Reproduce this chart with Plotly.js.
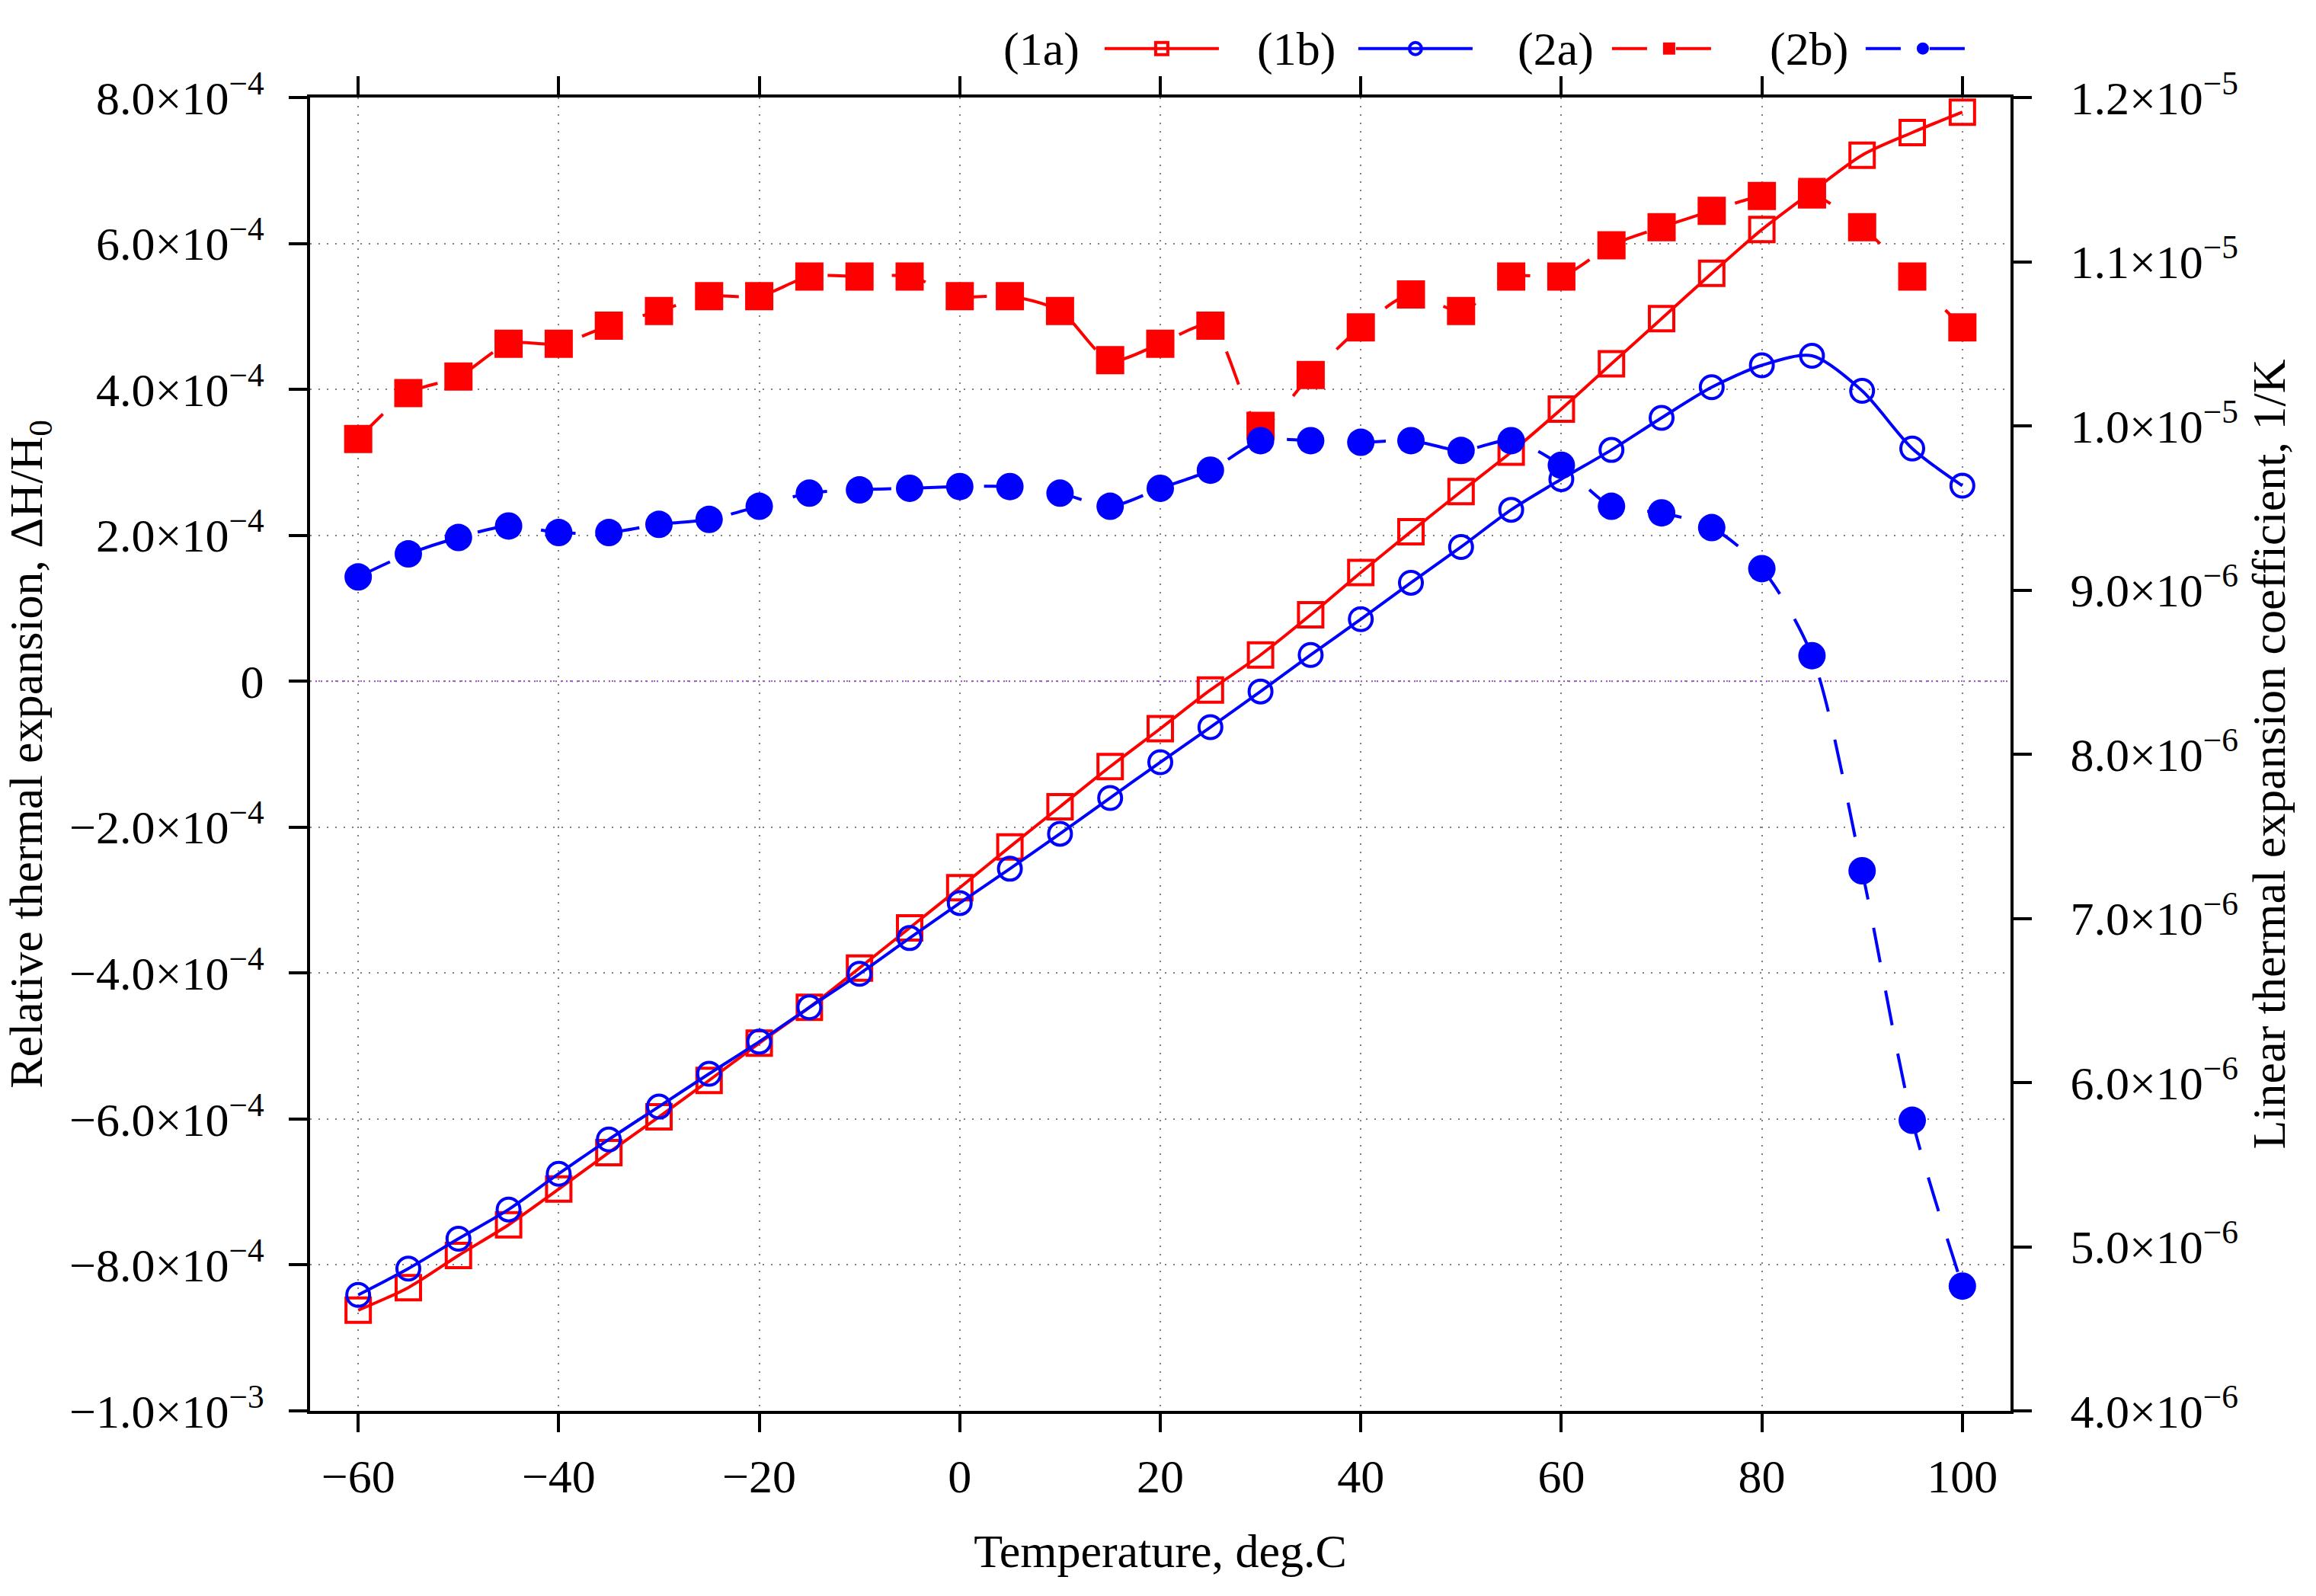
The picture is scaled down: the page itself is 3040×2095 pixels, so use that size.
<!DOCTYPE html>
<html>
<head>
<meta charset="utf-8">
<script src="https://cdn.plot.ly/plotly-3.0.1.min.js"></script>
<style>
  html, body { margin: 0; padding: 0; background: #fff; }
  #grafico { width: 3040px; height: 2095px; }
</style>
</head>
<body>
<div id="grafico"></div>
<script>
// temperatura (deg.C)
const temperatura = [-60, -55, -50, -45, -40, -35, -30, -25, -20, -15, -10, -5, 0, 5, 10, 15, 20,
                     25, 30, 35, 40, 45, 50, 55, 60, 65, 70, 75, 80, 85, 90, 95, 100];

// (1a), (1b): relative thermal expansion dH/H0 (left axis)
const expansao1a = [-8.62e-4, -8.31e-4, -7.87e-4, -7.45e-4, -6.96e-4, -6.46e-4, -5.97e-4, -5.47e-4,
                    -4.96e-4, -4.47e-4, -3.93e-4, -3.38e-4, -2.83e-4, -2.27e-4, -1.72e-4, -1.17e-4,
                    -0.65e-4, -0.12e-4, 0.36e-4, 0.91e-4, 1.49e-4, 2.05e-4, 2.60e-4, 3.14e-4,
                    3.73e-4, 4.35e-4, 4.97e-4, 5.59e-4, 6.19e-4, 6.71e-4, 7.21e-4, 7.52e-4, 7.80e-4];
const expansao1b = [-8.41e-4, -8.05e-4, -7.64e-4, -7.24e-4, -6.75e-4, -6.28e-4, -5.83e-4, -5.38e-4,
                    -4.94e-4, -4.47e-4, -4.01e-4, -3.52e-4, -3.04e-4, -2.57e-4, -2.09e-4, -1.60e-4,
                    -1.11e-4, -0.63e-4, -0.14e-4, 0.36e-4, 0.85e-4, 1.35e-4, 1.84e-4, 2.35e-4,
                    2.77e-4, 3.17e-4, 3.61e-4, 4.03e-4, 4.33e-4, 4.46e-4, 3.98e-4, 3.19e-4, 2.68e-4];

// (2a), (2b): linear thermal expansion coefficient, 1/K (right axis)
const coef2a = [9.92e-6, 10.20e-6, 10.30e-6, 10.50e-6, 10.50e-6, 10.61e-6, 10.70e-6, 10.79e-6,
                10.79e-6, 10.91e-6, 10.91e-6, 10.91e-6, 10.79e-6, 10.79e-6, 10.70e-6, 10.40e-6,
                10.50e-6, 10.61e-6, 10.00e-6, 10.31e-6, 10.60e-6, 10.80e-6, 10.70e-6, 10.91e-6,
                10.91e-6, 11.10e-6, 11.21e-6, 11.31e-6, 11.40e-6, 11.41e-6, 11.21e-6, 10.91e-6, 10.60e-6];
const coef2b = [9.08e-6, 9.22e-6, 9.32e-6, 9.39e-6, 9.35e-6, 9.35e-6, 9.40e-6, 9.43e-6,
                9.51e-6, 9.59e-6, 9.61e-6, 9.62e-6, 9.63e-6, 9.63e-6, 9.59e-6, 9.51e-6,
                9.62e-6, 9.73e-6, 9.91e-6, 9.91e-6, 9.90e-6, 9.91e-6, 9.85e-6, 9.91e-6,
                9.76e-6, 9.51e-6, 9.47e-6, 9.38e-6, 9.13e-6, 8.60e-6, 7.29e-6, 5.77e-6, 4.76e-6];

const nomes = ['(1a)', '(1b)', '(2a)', '(2b)'];

const ticksX = [-60, -40, -20, 0, 20, 40, 60, 80, 100];
const ticksXTexto = ['\u221260', '\u221240', '\u221220', '0', '20', '40', '60', '80', '100'];

const ticksEsq = [8e-4, 6e-4, 4e-4, 2e-4, 0, -2e-4, -4e-4, -6e-4, -8e-4, -1e-3];
const ticksEsqTexto = ['8.0\u00d710<sup>\u22124</sup>', '6.0\u00d710<sup>\u22124</sup>', '4.0\u00d710<sup>\u22124</sup>',
                       '2.0\u00d710<sup>\u22124</sup>', '0', '\u22122.0\u00d710<sup>\u22124</sup>',
                       '\u22124.0\u00d710<sup>\u22124</sup>', '\u22126.0\u00d710<sup>\u22124</sup>',
                       '\u22128.0\u00d710<sup>\u22124</sup>', '\u22121.0\u00d710<sup>\u22123</sup>'];

const ticksDir = [1.2e-5, 1.1e-5, 1.0e-5, 9e-6, 8e-6, 7e-6, 6e-6, 5e-6, 4e-6];
const ticksDirTexto = ['1.2\u00d710<sup>\u22125</sup>', '1.1\u00d710<sup>\u22125</sup>', '1.0\u00d710<sup>\u22125</sup>',
                       '9.0\u00d710<sup>\u22126</sup>', '8.0\u00d710<sup>\u22126</sup>', '7.0\u00d710<sup>\u22126</sup>',
                       '6.0\u00d710<sup>\u22126</sup>', '5.0\u00d710<sup>\u22126</sup>', '4.0\u00d710<sup>\u22126</sup>'];

const VERMELHO = '#ff0000';
const AZUL = '#0000ff';
const FONTE = 'Liberation Serif, Times New Roman, serif';
const tracejado = '46px,38px';

const traces = [
    { x: temperatura, y: expansao1a, name: '', yaxis: 'y', mode: 'lines+markers',
      line: { color: VERMELHO, width: 4, shape: 'spline', smoothing: 0.8 },
      marker: { symbol: 'square-open', size: 32, color: VERMELHO, line: { width: 4, color: VERMELHO } },
      hovertemplate: nomes[0] + ' %{x}: %{y}<extra></extra>' },
    { x: temperatura, y: expansao1b, name: '', yaxis: 'y', mode: 'lines+markers',
      line: { color: AZUL, width: 4, shape: 'spline', smoothing: 0.8 },
      marker: { symbol: 'circle-open', size: 30, color: AZUL, line: { width: 4, color: AZUL } },
      hovertemplate: nomes[1] + ' %{x}: %{y}<extra></extra>' },
    { x: temperatura, y: coef2a, name: '', yaxis: 'y2', mode: 'lines+markers',
      line: { color: VERMELHO, width: 4, dash: tracejado, shape: 'spline', smoothing: 0.8 },
      marker: { symbol: 'square', size: 37, color: VERMELHO },
      hovertemplate: nomes[2] + ' %{x}: %{y}<extra></extra>' },
    { x: temperatura, y: coef2b, name: '', yaxis: 'y2', mode: 'lines+markers',
      line: { color: AZUL, width: 4, dash: tracejado, shape: 'spline', smoothing: 0.8 },
      marker: { symbol: 'circle', size: 36, color: AZUL },
      hovertemplate: nomes[3] + ' %{x}: %{y}<extra></extra>' }
];

const eixoBase = {
    ticks: 'outside', ticklen: 24, tickwidth: 4, tickcolor: '#000',
    showline: true, linewidth: 4, linecolor: '#000',
    tickfont: { family: FONTE, size: 62, color: '#000' },
    zeroline: false
};

// rótulos da legenda ficam à esquerda do símbolo, como no original
const posLegenda = [0.4534, 0.6039, 0.7558, 0.9055];
const anotacoes = nomes.map((n, i) => ({
    text: n, xref: 'paper', yref: 'paper', x: posLegenda[i], y: 1.037,
    xanchor: 'right', yanchor: 'middle', showarrow: false,
    font: { family: FONTE, size: 62, color: '#000' }
}));

const layout = {
    width: 3040, height: 2095,
    margin: { l: 407, r: 401, t: 128, b: 243, autoexpand: false },
    paper_bgcolor: '#fff', plot_bgcolor: '#fff',
    font: { family: FONTE, size: 62, color: '#000' },
    showlegend: true,
    legend: {
        orientation: 'h', xref: 'container', yref: 'container',
        x: 0.4753, xanchor: 'left', y: 0.9695, yanchor: 'middle',
        entrywidth: 168, entrywidthmode: 'pixels', itemwidth: 150,
        font: { family: FONTE, size: 62 }, bgcolor: 'rgba(0,0,0,0)', traceorder: 'normal'
    },
    xaxis: Object.assign({}, eixoBase, {
        range: [-64.8, 104.8], tickvals: ticksX, ticktext: ticksXTexto, mirror: 'ticks',
        showgrid: true, gridcolor: '#808080', gridwidth: 2, griddash: '2px,9px',
        ticklabelstandoff: 5,
        title: { text: 'Temperature, deg.C', font: { family: FONTE, size: 62 }, standoff: 43 }
    }),
    yaxis: Object.assign({}, eixoBase, {
        range: [-1e-3, 8e-4], tickvals: ticksEsq, ticktext: ticksEsqTexto,
        showgrid: true, gridcolor: '#808080', gridwidth: 2, griddash: '2px,9px',
        ticklabelstandoff: 20,
        title: { text: 'Relative thermal expansion, \u0394H/H<sub>0</sub>', font: { family: FONTE, size: 62 }, standoff: 20 }
    }),
    yaxis2: Object.assign({}, eixoBase, {
        overlaying: 'y', side: 'right', range: [4e-6, 1.2e-5],
        tickvals: ticksDir, ticktext: ticksDirTexto, showgrid: false,
        ticklabelstandoff: 38,
        title: { text: 'Linear thermal expansion coefficient, 1/K', font: { family: FONTE, size: 62 }, standoff: 20 }
    }),
    shapes: [{
        type: 'line', xref: 'paper', x0: 0, x1: 1, yref: 'y', y0: 0, y1: 0,
        line: { color: '#a040e0', width: 2, dash: '2px,5px' }, layer: 'below'
    }],
    annotations: anotacoes
};

Plotly.newPlot('grafico', traces, layout, { displayModeBar: false, staticPlot: true });
</script>
</body>
</html>
